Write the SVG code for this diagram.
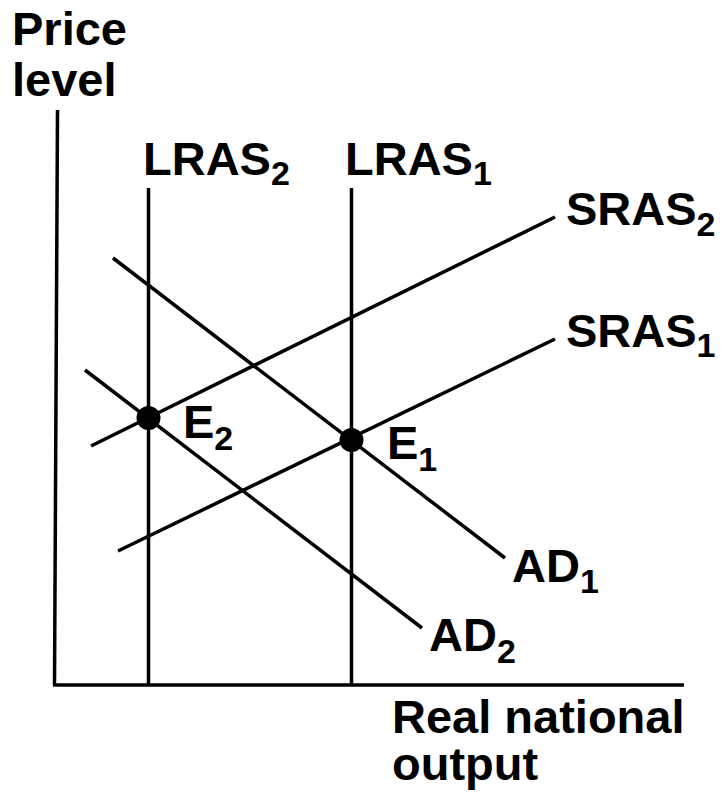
<svg xmlns="http://www.w3.org/2000/svg" width="723" height="798" viewBox="0 0 723 798">
<style>
.ln{stroke:#000;stroke-width:3.5;fill:none;stroke-linecap:butt}
.t{font-family:"Liberation Sans",Arial,sans-serif;font-weight:bold;font-size:47px;fill:#000}
.s{font-size:34px}
</style>
<rect width="723" height="798" fill="#fff"/>
<g id="axes">
<line class="ln" x1="57.5" y1="110" x2="54.5" y2="685"/>
<line class="ln" x1="53" y1="685" x2="684" y2="685"/>
<text class="t" x="12" y="45">Price<tspan x="12" y="96">level</tspan></text>
<text class="t" x="392" y="733">Real national<tspan x="392" y="780">output</tspan></text>
</g>
<g id="connectors">
<line class="ln" x1="148.5" y1="188" x2="148.5" y2="685"/>
<line class="ln" x1="351.5" y1="188" x2="351.5" y2="685"/>
<line class="ln" x1="91" y1="446" x2="555" y2="217"/>
<line class="ln" x1="118" y1="551" x2="555" y2="339"/>
<line class="ln" x1="113" y1="258" x2="505" y2="558"/>
<line class="ln" x1="85" y1="370" x2="422" y2="628"/>
</g>
<g id="LRAS2"><text class="t" x="143" y="175">LRAS<tspan class="s" dy="10">2</tspan></text></g>
<g id="LRAS1"><text class="t" x="345" y="175">LRAS<tspan class="s" dy="10">1</tspan></text></g>
<g id="SRAS2"><text class="t" x="566" y="225">SRAS<tspan class="s" dy="11">2</tspan></text></g>
<g id="SRAS1"><text class="t" x="566" y="347">SRAS<tspan class="s" dy="10">1</tspan></text></g>
<g id="AD1"><text class="t" x="512" y="582">AD<tspan class="s" dy="11">1</tspan></text></g>
<g id="AD2"><text class="t" x="429" y="651">AD<tspan class="s" dy="12">2</tspan></text></g>
<g id="E2"><circle cx="148.5" cy="418" r="12"/><text class="t" x="183" y="438">E<tspan class="s" dy="12">2</tspan></text></g>
<g id="E1"><circle cx="351.5" cy="440" r="12"/><text class="t" x="387" y="459">E<tspan class="s" dy="12">1</tspan></text></g>
</svg>
